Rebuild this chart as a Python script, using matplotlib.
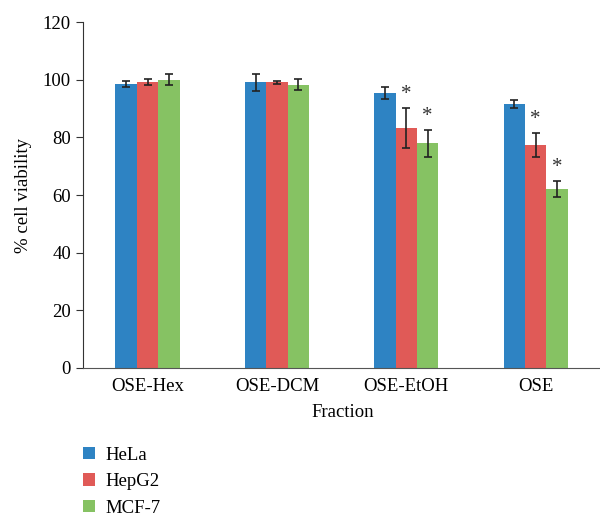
import matplotlib
matplotlib.use("Agg")
import matplotlib.pyplot as plt
import numpy as np
from matplotlib.patches import Patch

categories = ["OSE-Hex", "OSE-DCM", "OSE-EtOH", "OSE"]
series = ["HeLa", "HepG2", "MCF-7"]
hela = [98.6, 99.1, 95.4, 91.5]
hepg2 = [99.2, 99.2, 83.2, 77.3]
mcf7 = [100.0, 98.3, 77.9, 62.1]
hela_err = [1.0, 3.0, 2.0, 1.4]
hepg2_err = [1.0, 0.5, 7.0, 4.2]
mcf7_err = [1.9, 1.9, 4.6, 2.8]
hela_sig = [False, False, False, False]
hepg2_sig = [False, False, True, True]
mcf7_sig = [False, False, True, True]
colors = ["#2E83C3", "#E05A57", "#86C263"]

plt.rcParams['font.family'] = ['Liberation Serif', 'DejaVu Serif']

fig = plt.figure(figsize=(6.0, 5.18), dpi=100)
ax = fig.add_axes([0.138, 0.29, 0.867, 0.667])

x = np.arange(len(categories))
w = 0.165
vals = [hela, hepg2, mcf7]
errs = [hela_err, hepg2_err, mcf7_err]
sigs = [hela_sig, hepg2_sig, mcf7_sig]
for i in range(3):
    pos = x + (i - 1) * w
    ax.bar(pos, vals[i], w, color=colors[i], label=series[i],
           yerr=errs[i], capsize=3,
           error_kw=dict(ecolor="#222222", elinewidth=1.2, capthick=1.2))
    for p, v, e, s in zip(pos, vals[i], errs[i], sigs[i]):
        if s:
            ax.text(p, v + e + 1.5, "*", ha="center", va="bottom", fontsize=15, color="#333333")

ax.set_xlim(-0.5, 3.52)
ax.set_ylim(0, 120)
ax.set_yticks(range(0, 121, 20))
ax.set_xticks(x)
ax.set_xticklabels(categories, fontsize=13.5)
ax.tick_params(axis='y', labelsize=13.5, direction='out', length=5, color="#333333")
ax.tick_params(axis='x', length=0, pad=7)
for s in ["top", "right"]:
    ax.spines[s].set_visible(False)
ax.spines["left"].set_color("#333333")
ax.spines["bottom"].set_color("#555555")
ax.set_ylabel("% cell viability", fontsize=13.5, labelpad=8)
ax.set_xlabel("Fraction", fontsize=13.5, labelpad=7)

handles = [Patch(facecolor=c, label=l) for c, l in zip(colors, series)]
fig.legend(handles=handles, loc="upper left", bbox_to_anchor=(0.125, 0.152),
           frameon=False, fontsize=13.5, handlelength=0.65, handleheight=0.65,
           handletextpad=0.6, labelspacing=0.5, borderaxespad=0)

fig.savefig("out.png", dpi=100)
